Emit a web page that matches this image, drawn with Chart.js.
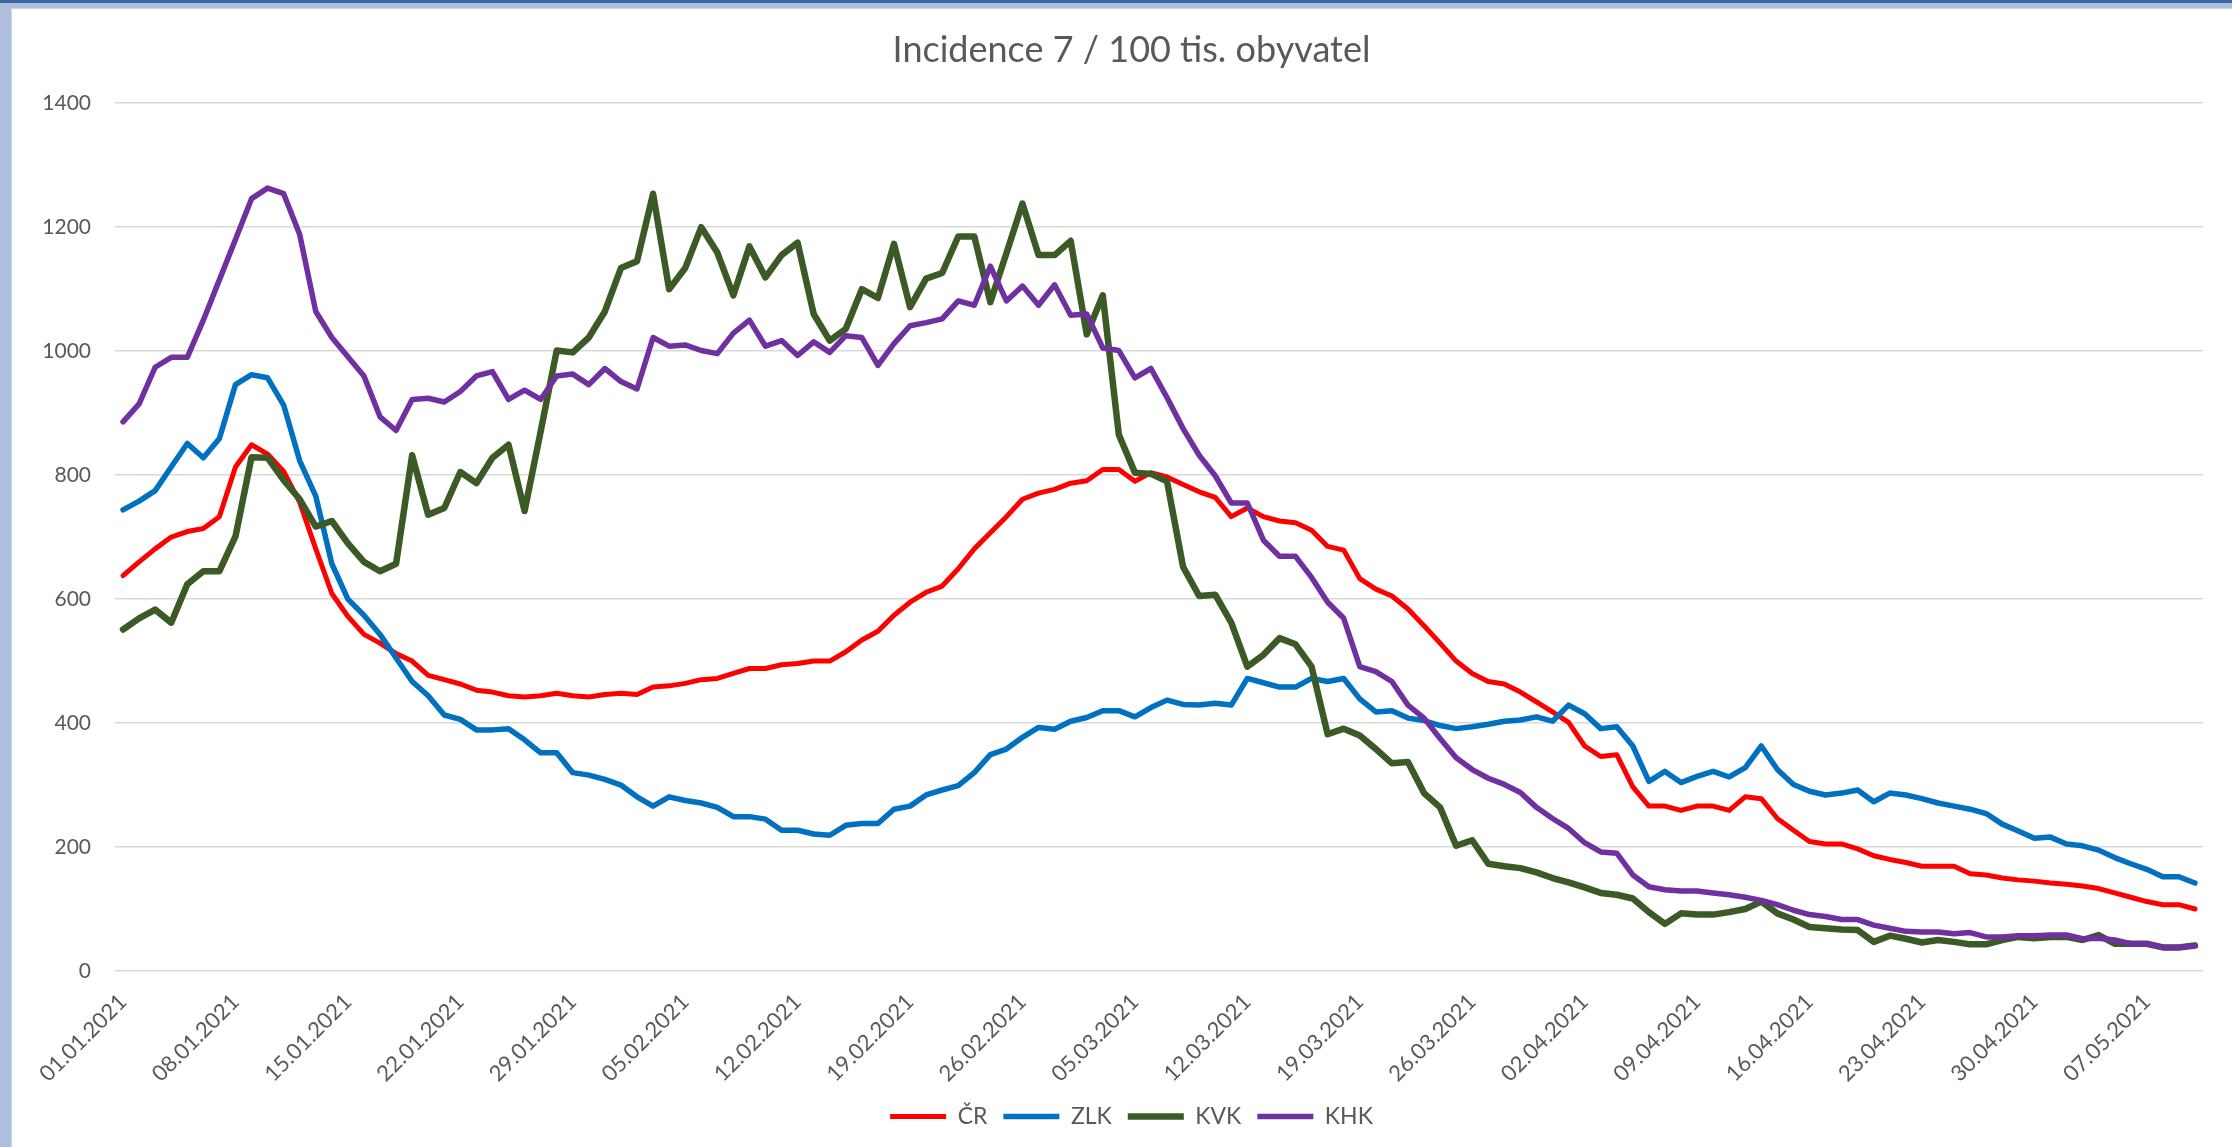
<!DOCTYPE html>
<html>
<head>
<meta charset="utf-8">
<script src="https://cdn.jsdelivr.net/npm/chart.js@4.4.1/dist/chart.umd.min.js"></script>
<style>
html,body{margin:0;padding:0;background:#fff;overflow:hidden;}
#frame{position:absolute;left:0;top:0;width:2232px;height:1147px;box-sizing:border-box;border-top:3px solid #3c65a3;background:#aebfdd;}
#inner{position:absolute;left:11px;top:5px;right:0;bottom:0;border-left:1px solid #cfd5de;border-top:1px solid #cfd5de;background:#fff;overflow:hidden;}
#c{display:block;}
</style>
</head>
<body>
<div id="frame"><div id="inner"><canvas id="c" width="2239" height="1138"></canvas></div></div>
<script>
// daily values 01.01.2021 - 10.05.2021
const startDay=new Date(2021,0,1),dayCount=130;
const days=[];
for(let i=0;i<dayCount;i++){
  const d=new Date(startDay.getTime()+i*864e5);
  days.push(String(d.getDate()).padStart(2,'0')+'.'+String(d.getMonth()+1).padStart(2,'0')+'.'+d.getFullYear());
}
const yTicks=[0,200,400,600,800,1000,1200,1400];

const cr=[638,660,681,700,709,714,733,813,849,834,806,756,681,609,572,543,529,512,500,477,470,463,
  453,450,444,442,444,448,444,442,446,448,446,458,460,464,470,472,480,488,488,494,496,500,
  500,515,534,548,574,595,611,621,649,681,707,733,761,771,777,787,791,809,809,790,804,797,
  785,773,764,733,747,733,726,723,711,685,679,633,616,605,584,557,529,500,480,467,463,450,
  434,418,401,363,346,349,297,266,266,259,266,266,259,281,278,246,227,209,205,205,197,
  186,180,175,169,169,169,157,155,150,147,145,142,140,137,133,126,119,112,107,107,100];
const zlk=[744,758,775,813,851,828,859,946,962,957,913,823,766,657,600,574,543,505,467,444,413,406,
  389,389,391,373,352,352,320,316,309,300,281,266,281,275,271,264,249,249,245,227,227,221,
  219,235,238,238,261,266,284,292,299,320,349,358,377,393,390,403,409,420,420,410,425,437,
  430,429,432,429,472,465,458,458,472,467,472,439,418,420,408,404,396,391,394,398,403,405,
  410,403,429,415,391,394,363,306,322,304,314,322,313,328,363,325,301,290,284,287,292,
  273,287,284,278,271,266,261,254,237,226,214,216,205,202,195,183,173,164,152,152,142];
const kvk=[551,569,583,562,624,645,645,701,829,828,792,761,717,726,690,660,645,657,832,736,747,805,
  787,828,849,742,870,1001,998,1022,1064,1134,1145,1254,1100,1134,1200,1159,1090,1169,1119,1155,1175,1060,
  1017,1036,1100,1086,1173,1071,1117,1126,1185,1185,1079,1158,1238,1155,1155,1178,1027,1090,865,804,802,790,
  652,605,607,562,491,510,537,527,491,382,391,380,358,335,337,287,264,202,211,173,169,166,
  159,150,143,135,126,123,117,95,76,93,91,91,95,100,112,93,83,71,69,67,66,
  47,57,52,46,50,47,43,43,50,55,53,55,55,50,58,44,44,44,38,38,41];
const khk=[886,915,974,990,990,1050,1115,1180,1246,1263,1254,1188,1064,1022,991,960,894,872,922,924,918,935,
  960,967,922,937,922,960,963,946,972,951,939,1022,1008,1010,1001,996,1029,1050,1008,1017,993,1015,
  998,1025,1022,977,1012,1041,1046,1052,1081,1074,1137,1081,1105,1074,1107,1058,1060,1005,1001,957,972,925,
  875,832,799,755,755,695,669,669,635,595,569,491,483,467,429,408,375,344,325,311,301,288,
  264,246,230,207,192,190,155,136,131,129,129,126,123,119,114,107,98,91,88,83,83,
  74,69,64,63,63,60,62,55,55,57,57,58,58,52,53,50,44,44,38,38,41];

const seriesNames=['ČR','ZLK','KVK','KHK'];
const seriesColors=['#ff0000','#0070c0','#3b5a26','#7030a0'];
const seriesWidths=[5,5.5,6.5,5.5];

const txt='#595959',fam='Lato, "Open Sans", sans-serif';
const ds=[cr,zlk,kvk,khk].map((d,k)=>({
  label:seriesNames[k],data:d,borderColor:seriesColors[k],backgroundColor:seriesColors[k],
  borderWidth:seriesWidths[k],pointRadius:0,pointHoverRadius:0,pointStyle:'line',
  tension:0,borderJoinStyle:'round',borderCapStyle:'round',fill:false,order:3-k
}));

new Chart(document.getElementById('c'),{
  type:'line',
  data:{labels:days,datasets:ds},
  options:{
    responsive:false,animation:false,
    layout:{padding:{left:0,right:0,top:0,bottom:9}},
    plugins:{
      title:{display:true,text:'Incidence 7 / 100 tis. obyvatel',color:txt,font:{family:fam,size:36,weight:'normal'},padding:{top:20,bottom:31}},
      legend:{position:'bottom',labels:{usePointStyle:true,pointStyleWidth:56,boxHeight:6,padding:16,color:txt,font:{family:fam,size:23},
        sort:(a,b)=>a.datasetIndex-b.datasetIndex}},
      tooltip:{enabled:false}
    },
    scales:{
      x:{offset:true,grid:{display:false},border:{display:false},
        ticks:{autoSkip:false,minRotation:45,maxRotation:45,color:txt,font:{family:fam,size:22},padding:10,
          callback:function(v,i){return i%7===0?days[i]:'';}},
        afterFit:s=>{s.height=118;}},
      y:{min:0,max:1400,afterBuildTicks:s=>{s.ticks=yTicks.map(v=>({value:v}));},
        grid:{color:'#d9d9d9',lineWidth:1.5,drawTicks:false},border:{display:false},
        ticks:{color:txt,font:{family:fam,size:21},padding:24,callback:v=>String(v)},
        afterFit:s=>{s.width=103;}},
      // empty right margin so the plot ends where the original one does
      yR:{position:'right',grid:{display:false},border:{display:false},ticks:{display:false},
        afterFit:s=>{s.width=48;}}
    }
  }
});
</script>
</body>
</html>
